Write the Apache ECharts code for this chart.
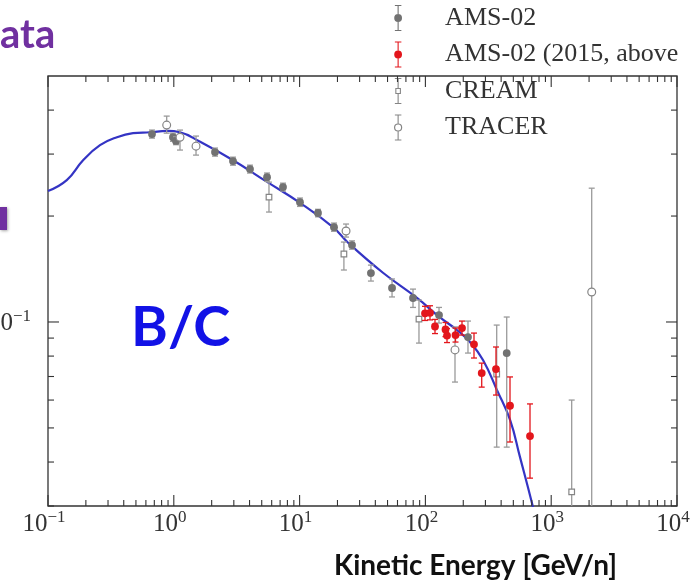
<!DOCTYPE html>
<html>
<head>
<meta charset="utf-8">
<script src="https://cdn.jsdelivr.net/npm/echarts@6/dist/echarts.min.js"></script>
<style>
  html, body { margin: 0; padding: 0; background: #fff; }
  #chart { width: 697px; height: 583px; }
</style>
</head>
<body>
<div id="chart"></div>
<script>
// B/C ratio versus kinetic energy per nucleon: propagation model and measurements

// Model curve
const modelEnergy = [0.1, 0.141, 0.19, 0.259, 0.353, 0.474, 0.647, 0.883, 1.12, 1.62, 2.96, 5.51, 10.07, 18.4, 24.3, 46.0, 85.7, 130.6, 178, 226, 287, 371, 471, 565, 703, 770];
const modelRatio  = [0.2355, 0.253, 0.288, 0.318, 0.335, 0.344, 0.346, 0.349, 0.346, 0.325, 0.288, 0.250, 0.218, 0.186, 0.168, 0.138, 0.117, 0.103, 0.0949, 0.0877, 0.078, 0.064, 0.0527, 0.0413, 0.0306, 0.0265];

// AMS-02
const amsEnergy = [0.671, 0.985, 1.041, 2.126, 2.955, 4.034, 5.51, 7.38, 10.07, 14.0, 18.77, 26.1, 36.9, 54.3, 79.7, 128.3, 218, 443];
const amsRatio  = [0.342, 0.335, 0.327, 0.304, 0.2866, 0.272, 0.258, 0.2417, 0.219, 0.204, 0.186, 0.1654, 0.1377, 0.1249, 0.117, 0.1046, 0.0906, 0.0816];
const amsLow    = [0.333, 0.326, 0.319, 0.296, 0.279, 0.265, 0.251, 0.2355, 0.213, 0.199, 0.181, 0.161, 0.1307, 0.1178, 0.110, 0.0993, 0.0816, 0.0441];
const amsHigh   = [0.351, 0.344, 0.336, 0.312, 0.294, 0.279, 0.265, 0.248, 0.225, 0.209, 0.191, 0.170, 0.1451, 0.1325, 0.124, 0.110, 0.1006, 0.1033];

// AMS-02 (2015, above)
const ams15Energy = [99.3, 108.8, 119.2, 144.5, 148.5, 173.5, 195.4, 243.4, 280.3, 364.0, 470.5, 678.5];
const ams15Ratio  = [0.1058, 0.1062, 0.0971, 0.0952, 0.0915, 0.0918, 0.0961, 0.0864, 0.0716, 0.0735, 0.0578, 0.0474];
const ams15Low    = [0.101, 0.1014, 0.0927, 0.0909, 0.0874, 0.0877, 0.0918, 0.0790, 0.0653, 0.0620, 0.0456, 0.0360];
const ams15High   = [0.1108, 0.1112, 0.1017, 0.0997, 0.0958, 0.0961, 0.1006, 0.0930, 0.0764, 0.0849, 0.0698, 0.0585];

// CREAM
const creamEnergy = [5.71, 22.5, 88.9, 368.8, 1455];
const creamRatio  = [0.2264, 0.156, 0.1019, 0.0711, 0.0329];
const creamLow    = [0.2053, 0.1405, 0.0871, 0.0441, 0.02];
const creamHigh   = [0.2497, 0.1687, 0.1154, 0.098, 0.060];

// TRACER
const tracerEnergy = [0.878, 1.12, 1.502, 23.4, 171.9, 2099];
const tracerRatio  = [0.3627, 0.335, 0.316, 0.1813, 0.0833, 0.1217];
const tracerLow    = [0.344, 0.308, 0.298, 0.1743, 0.0675, 0.02];
const tracerHigh   = [0.3846, 0.351, 0.3375, 0.1898, 0.0968, 0.240];

// Axis decades and tick positions
const xDecades = [0.1, 1, 10, 100, 1000, 10000];
const yMajorTicks = [0.1];
const yMinorTicks = [0.03, 0.04, 0.05, 0.06, 0.07, 0.08, 0.09, 0.2, 0.3, 0.4];
const minorSteps = [2, 3, 4, 5, 6, 7, 8, 9];

const seriesNames = ['AMS-02', 'AMS-02 (2015, above', 'CREAM', 'TRACER'];

const GREY_DOT = '#727272';
const GREY_BAR = '#9a9a9a';
const RED = '#e3161c';
const OPEN = '#858585';

function zip4(a, b, c, d) {
  return a.map((v, i) => [v, b[i], c[i], d[i]]);
}

// Tick list: [x, y, axis (0 = x, 1 = y), major flag]
const tickData = [];
xDecades.forEach((d, i) => {
  tickData.push([d, 0.1, 0, 1]);
  if (i < xDecades.length - 1) minorSteps.forEach(m => tickData.push([d * m, 0.1, 0, 0]));
});
yMajorTicks.forEach(v => tickData.push([1, v, 1, 1]));
yMinorTicks.forEach(v => tickData.push([1, v, 1, 0]));

function renderTick(params, api) {
  const cs = params.coordSys;
  const major = api.value(3) === 1;
  const len = major ? 11 : 6;
  const style = { stroke: '#333', lineWidth: 1.1 };
  if (api.value(2) === 0) {
    const x = api.coord([api.value(0), 0.1])[0];
    const b = cs.y + cs.height;
    return { type: 'group', children: [
      { type: 'line', shape: { x1: x, y1: b, x2: x, y2: b - len }, style },
      { type: 'line', shape: { x1: x, y1: cs.y, x2: x, y2: cs.y + len }, style }
    ] };
  }
  const y = api.coord([1, api.value(1)])[1];
  const r = cs.x + cs.width;
  return { type: 'group', children: [
    { type: 'line', shape: { x1: cs.x, y1: y, x2: cs.x + len, y2: y }, style },
    { type: 'line', shape: { x1: r, y1: y, x2: r - len, y2: y }, style }
  ] };
}

function errorBarRenderer(marker, markerColor, barColor) {
  return function (params, api) {
    const cs = params.coordSys;
    const top = cs.y, bottom = cs.y + cs.height;
    const p = api.coord([api.value(0), api.value(1)]);
    const lo = api.coord([api.value(0), api.value(2)])[1];
    const hi = api.coord([api.value(0), api.value(3)])[1];
    const x = p[0];
    const barStyle = { stroke: barColor, lineWidth: 1.3 };
    const children = [
      { type: 'line', shape: { x1: x, y1: Math.max(hi, top), x2: x, y2: Math.min(lo, bottom) }, style: barStyle }
    ];
    if (hi >= top) children.push({ type: 'line', shape: { x1: x - 3, y1: hi, x2: x + 3, y2: hi }, style: barStyle });
    if (lo <= bottom) children.push({ type: 'line', shape: { x1: x - 3, y1: lo, x2: x + 3, y2: lo }, style: barStyle });
    if (marker === 'dot') {
      children.push({ type: 'circle', shape: { cx: x, cy: p[1], r: 3.9 }, style: { fill: markerColor } });
    } else if (marker === 'ring') {
      children.push({ type: 'circle', shape: { cx: x, cy: p[1], r: 3.9 }, style: { fill: '#fff', stroke: markerColor, lineWidth: 1.2 } });
    } else {
      children.push({ type: 'rect', shape: { x: x - 2.8, y: p[1] - 2.8, width: 5.6, height: 5.6 }, style: { fill: '#fff', stroke: markerColor, lineWidth: 1.2 } });
    }
    return { type: 'group', children };
  };
}

// Legend icons: error bar with a marker on it
const iconCaps = 'M0,0H6V1H0Z M0,23H6V24H0Z';
const iconDot = 'path://M2.5,0H3.5V24H2.5Z ' + iconCaps + ' M3,8.4A3.6,3.6,0,1,1,2.99,8.4Z';
const iconRing = 'path://M2.5,0H3.5V8.2H2.5Z M2.5,15.8H3.5V24H2.5Z ' + iconCaps +
  ' M3,8.2A3.8,3.8,0,1,1,2.99,8.2Z M3,9.3A2.7,2.7,0,1,0,3.01,9.3Z';
const iconSquare = 'path://M2.5,0H3.5V9.2H2.5Z M2.5,14.8H3.5V24H2.5Z ' + iconCaps +
  ' M0.4,9.2H5.6V14.8H0.4Z M1.4,10.2V13.8H4.6V10.2Z';

function supLabel(v) {
  const e = Math.log10(v);
  if (Math.abs(e - Math.round(e)) > 1e-6) return '';
  const n = Math.round(e);
  return '{b|10}{s|' + (n < 0 ? '\u2212' + (-n) : n) + '}';
}

const labelRich = {
  b: { fontFamily: 'Liberation Serif', fontSize: 25, lineHeight: 28, color: '#333', verticalAlign: 'bottom' },
  s: { fontFamily: 'Liberation Serif', fontSize: 17, lineHeight: 4, color: '#333', verticalAlign: 'top' }
};

const chart = echarts.init(document.getElementById('chart'), null, { renderer: 'canvas' });

chart.setOption({
  animation: false,
  backgroundColor: '#fff',
  grid: {
    left: 48, right: 20, top: 76, bottom: 77,
    show: true, borderColor: '#333', borderWidth: 1.3, backgroundColor: 'transparent',
    containLabel: false, outerBoundsMode: 'none'
  },
  legend: {
    orient: 'vertical',
    left: 389, top: 0,
    itemWidth: 84, itemHeight: 26, itemGap: 10.5,
    symbolKeepAspect: true,
    selectedMode: false,
    textStyle: { fontFamily: 'Liberation Serif', fontSize: 26, lineHeight: 26, color: '#333' },
    data: [
      { name: seriesNames[0], icon: iconDot, itemStyle: { color: GREY_DOT } },
      { name: seriesNames[1], icon: iconDot, itemStyle: { color: RED } },
      { name: seriesNames[2], icon: iconSquare, itemStyle: { color: OPEN } },
      { name: seriesNames[3], icon: iconRing, itemStyle: { color: OPEN } }
    ]
  },
  xAxis: {
    type: 'log', logBase: 10, min: 0.1, max: 10000,
    name: 'Kinetic Energy [GeV/n]',
    nameLocation: 'middle', nameGap: 46,
    nameTextStyle: { fontFamily: 'Lato', fontWeight: 'bold', fontSize: 28, color: '#111', padding: [0, 0, 0, 226] },
    axisLine: { show: false }, axisTick: { show: false }, splitLine: { show: false },
    axisLabel: { margin: 3, padding: [0, 8, 0, 0], formatter: supLabel, rich: labelRich }
  },
  yAxis: {
    type: 'log', logBase: 10, min: 0.03, max: 0.5,
    axisLine: { show: false }, axisTick: { show: false }, splitLine: { show: false },
    axisLabel: { margin: 17, formatter: supLabel, rich: labelRich }
  },
  graphic: [
    { type: 'text', left: 0, top: 15, style: { text: 'ata', fontFamily: 'Lato', fontWeight: 'bold', fontSize: 40, fill: '#7030a0' } },
    { type: 'rect', shape: { x: 0, y: 207, width: 7, height: 23 },
      style: { fill: '#7030a0', shadowBlur: 3, shadowOffsetX: 1, shadowOffsetY: 1, shadowColor: 'rgba(0,0,0,0.35)' } },
    { type: 'text', x: 131, y: 328, style: { text: 'B/C', fontFamily: 'Lato', fontWeight: 'bold', fontSize: 56, fill: '#1212e6', verticalAlign: 'middle' } }
  ],
  series: [
    {
      name: 'model', type: 'line', smooth: 0.45, symbol: 'none', z: 2,
      lineStyle: { color: '#3434c4', width: 2.2 },
      data: modelEnergy.map((e, i) => [e, modelRatio[i]])
    },
    {
      name: seriesNames[0], type: 'custom', z: 3, itemStyle: { color: GREY_DOT },
      renderItem: errorBarRenderer('dot', GREY_DOT, GREY_BAR),
      data: zip4(amsEnergy, amsRatio, amsLow, amsHigh)
    },
    {
      name: seriesNames[1], type: 'custom', z: 4, itemStyle: { color: RED },
      renderItem: errorBarRenderer('dot', RED, RED),
      data: zip4(ams15Energy, ams15Ratio, ams15Low, ams15High)
    },
    {
      name: seriesNames[2], type: 'custom', z: 3, itemStyle: { color: OPEN },
      renderItem: errorBarRenderer('square', OPEN, GREY_BAR),
      data: zip4(creamEnergy, creamRatio, creamLow, creamHigh)
    },
    {
      name: seriesNames[3], type: 'custom', z: 3, itemStyle: { color: OPEN },
      renderItem: errorBarRenderer('ring', OPEN, GREY_BAR),
      data: zip4(tracerEnergy, tracerRatio, tracerLow, tracerHigh)
    },
    {
      name: 'ticks', type: 'custom', z: 5, silent: true,
      renderItem: renderTick,
      data: tickData
    }
  ]
});
</script>
</body>
</html>
